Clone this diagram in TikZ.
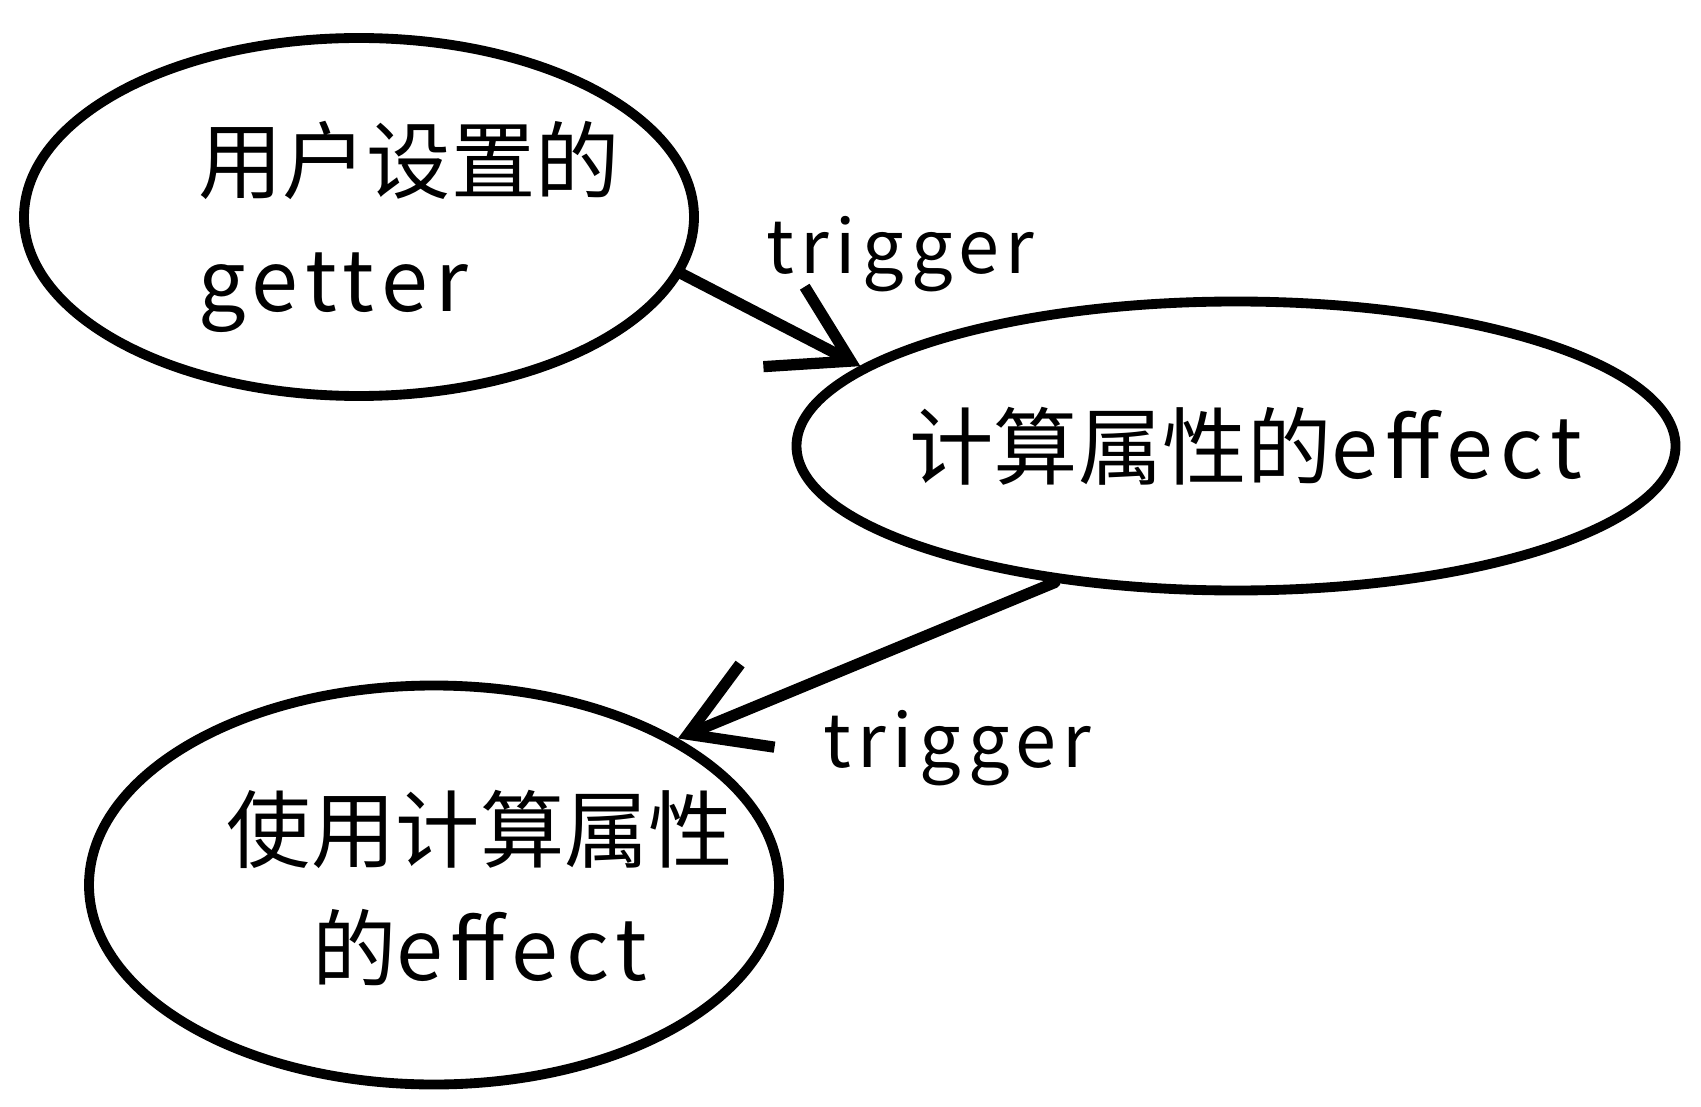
\documentclass[tikz,border=0pt]{standalone}
\usepackage{fontspec}
\setmainfont{Noto Sans CJK SC}
\usetikzlibrary{shapes.geometric,positioning,arrows.meta}
\newcommand{\lat}[1]{{\addfontfeature{LetterSpace=9}#1}}

\begin{document}
\begin{tikzpicture}[>={Straight Barb[length=7.5mm,width=9mm]},on grid,
   blob/.style={ellipse,draw,line width=2.8pt,inner sep=0pt},
   txt/.style={font=\fontsize{24}{34}\selectfont,align=center},
   trig/.style={font=\fontsize{21}{25}\selectfont,inner sep=0pt},
   flow/.style={->,line width=3.2pt,line cap=round}]
  \useasboundingbox (0,0) rectangle (17.01,-11.06);
  \node[blob,minimum width=6.70cm,minimum height=3.58cm] (G) at (3.59,-2.17) {};
  \node[blob,minimum width=8.79cm,minimum height=2.89cm] (C) [below right=2.29cm and 8.77cm of G] {};
  \node[blob,minimum width=6.90cm,minimum height=3.99cm] (U) [below right=6.68cm and 0.75cm of G] {};
  \node[txt,align=left] (Gt) at ([xshift=5mm,yshift=-1mm]G) {用户设置的\\\lat{getter}};
  \node[txt] (Ct) at ([xshift=1mm]C) {计算属性的\lat{effect}};
  \node[txt] (Ut) at ([xshift=4.6mm,yshift=-0.3mm]U) {使用计算属性\\的\lat{effect}};
  \draw[flow] (G.-10) -- node[trig,pos=0.44,anchor=south west,yshift=1.7mm] (t1) {\lat{trigger}} (C.168);
  \draw[flow] (C.-143) -- node[trig,pos=0.63,anchor=north west,yshift=-2.4mm] (t2) {\lat{trigger}} (U.31);
\end{tikzpicture}
\end{document}
